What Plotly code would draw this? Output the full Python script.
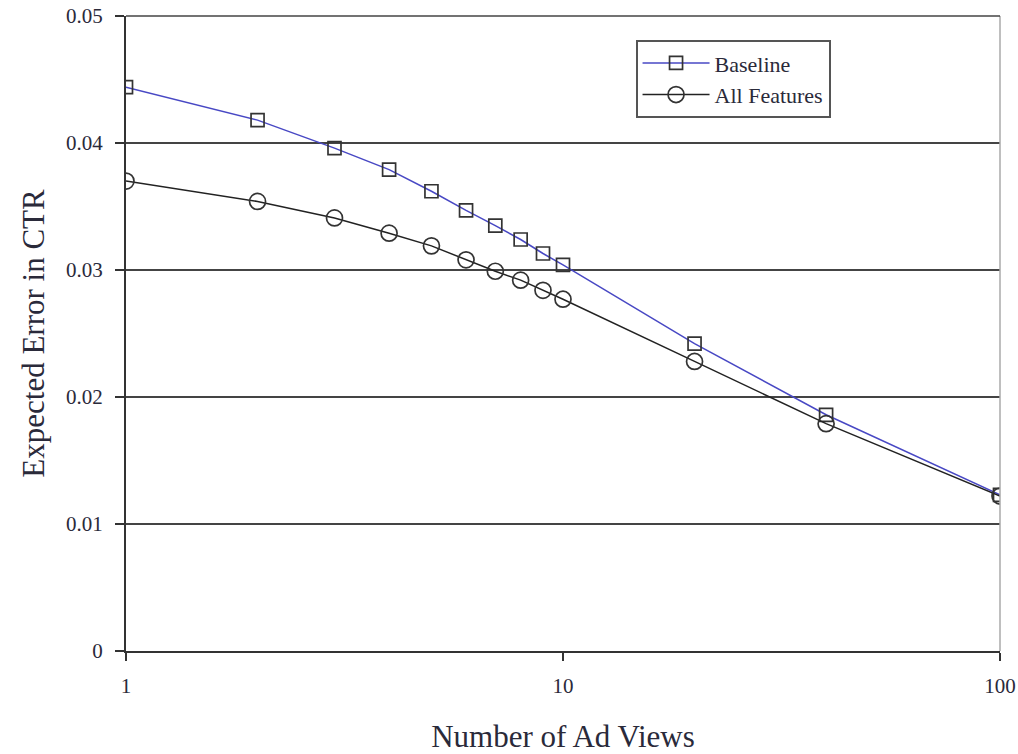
import plotly.graph_objects as go

ad_views = [1, 2, 3, 4, 5, 6, 7, 8, 9, 10, 20, 40, 100]
baseline = [0.0444, 0.0418, 0.0396, 0.0379, 0.0362, 0.0347, 0.0335, 0.0324, 0.0313, 0.0304, 0.0242, 0.0186, 0.0123]
all_features = [0.0370, 0.0354, 0.0341, 0.0329, 0.0319, 0.0308, 0.0299, 0.0292, 0.0284, 0.0277, 0.0228, 0.0179, 0.0122]
y_ticks = [0, 0.01, 0.02, 0.03, 0.04, 0.05]
y_tick_text = ["0", "0.01", "0.02", "0.03", "0.04", "0.05"]
x_ticks = [1, 10, 100]
x_tick_text = ["1", "10", "100"]

font_family = "Liberation Serif, Times New Roman, serif"
text_color = "#2a2a3a"

fig = go.Figure()
fig.add_trace(go.Scatter(
    x=ad_views, y=baseline, name="Baseline", mode="lines+markers",
    line=dict(color="#4848c4", width=1.5),
    marker=dict(symbol="square-open", size=13, color="#333333", line=dict(width=1.7, color="#333333")),
))
fig.add_trace(go.Scatter(
    x=ad_views, y=all_features, name="All Features", mode="lines+markers",
    line=dict(color="#222222", width=1.5),
    marker=dict(symbol="circle-open", size=16, color="#333333", line=dict(width=1.7, color="#333333")),
))

fig.update_layout(
    width=1018, height=754,
    margin=dict(l=126, r=18, t=16, b=103),
    paper_bgcolor="white", plot_bgcolor="white",
    font=dict(family=font_family, size=20, color=text_color),
    showlegend=True,
    legend=dict(
        x=0.583, y=0.962, xanchor="left", yanchor="top",
        bordercolor="#555555", borderwidth=2, bgcolor="white",
        font=dict(family=font_family, size=22, color=text_color),
        itemwidth=67, tracegroupgap=13,
    ),
    xaxis=dict(
        type="log", range=[0, 2], automargin=False,
        tickvals=x_ticks, ticktext=x_tick_text,
        ticks="outside", ticklen=8, tickwidth=1.5, tickcolor="#333333",
        ticklabelstandoff=7,
        showline=True, linecolor="#333333", linewidth=2,
        showgrid=False, zeroline=False,
        title=dict(text="Number of Ad Views", font=dict(size=31, family=font_family, color=text_color), standoff=35),
        tickfont=dict(size=21),
    ),
    yaxis=dict(
        range=[0, 0.05], automargin=False,
        tickvals=y_ticks, ticktext=y_tick_text,
        ticks="outside", ticklen=9, tickwidth=1.5, tickcolor="#333333",
        ticklabelstandoff=8,
        showline=True, linecolor="#333333", linewidth=2,
        showgrid=True, gridcolor="#444444", gridwidth=1.6,
        zeroline=False,
        title=dict(text="Expected Error in CTR", font=dict(size=31, family=font_family, color=text_color), standoff=12),
        tickfont=dict(size=21),
    ),
)
fig.add_shape(type="line", xref="paper", yref="paper", x0=1, x1=1, y0=0, y1=1,
              line=dict(color="#aaaaaa", width=1.5))
fig.add_shape(type="line", xref="paper", yref="paper", x0=0, x1=1, y0=1, y1=1,
              line=dict(color="#444444", width=1.6))

fig.write_html("out.html", config={"displayModeBar": False},
               post_script="document.body.style.margin='0';")
